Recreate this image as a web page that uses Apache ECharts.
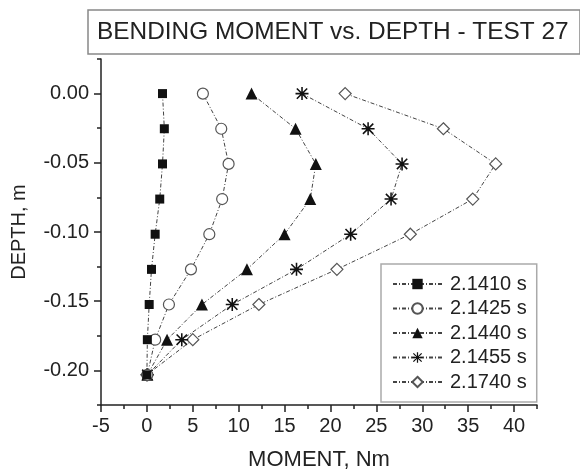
<!DOCTYPE html>
<html>
<head>
<meta charset="utf-8">
<script src="https://cdn.jsdelivr.net/npm/echarts@6/dist/echarts.min.js"></script>
<style>html,body{margin:0;padding:0;background:#fff}#c{width:580px;height:476px}</style>
</head>
<body>
<div id="c"></div>
<script>
// Depth of each gauge (m)
var depths = [0, -0.0254, -0.0508, -0.0762, -0.1016, -0.127, -0.1524, -0.1778, -0.2032];
// Moments (Nm) at each depth, per time
var seriesNames = ['2.1410 s', '2.1425 s', '2.1440 s', '2.1455 s', '2.1740 s'];
var m2141 = [1.7, 1.9, 1.7, 1.4, 0.9, 0.5, 0.25, 0.05, 0.0];
var m2142 = [6.1, 8.1, 8.9, 8.2, 6.8, 4.8, 2.4, 0.9, 0.05];
var m2144 = [11.4, 16.2, 18.4, 17.8, 15.0, 10.9, 6.0, 2.2, 0.05];
var m2145 = [16.9, 24.1, 27.8, 26.6, 22.2, 16.3, 9.3, 3.8, 0.05];
var m2174 = [21.6, 32.3, 38.0, 35.5, 28.7, 20.7, 12.2, 5.0, 0.0];
// Tick values
var xMajorTicks = [-5, 0, 5, 10, 15, 20, 25, 30, 35, 40];
var xMinorTicks = [-2.5, 2.5, 7.5, 12.5, 17.5, 22.5, 27.5, 32.5, 37.5, 42.5];
var yMajorTicks = [-0.2, -0.15, -0.1, -0.05, 0];
var yMinorTicks = [-0.225, -0.175, -0.125, -0.075, -0.025, 0.025];

var starPath = 'path://M0 4.4L10 4.4L10 5.6L0 5.6Z M4.4 0L5.6 0L5.6 10L4.4 10Z M0.6 1.45L1.45 0.6L9.4 8.55L8.55 9.4Z M8.55 0.6L9.4 1.45L1.45 9.4L0.6 8.55Z';

var moments = [m2141, m2142, m2144, m2145, m2174];
var symbols = ['rect', 'circle', 'triangle', starPath, 'diamond'];
var sizes = [9, 11, 12, 13, 12];
var fills = ['#111', '#fff', '#111', '#111', '#fff'];
var borders = ['#111', '#555', '#111', '#111', '#555'];

function pairs(arr) {
  return arr.map(function (v, i) { return [v, depths[i]]; });
}

var series = moments.map(function (arr, k) {
  return {
    name: seriesNames[k],
    type: 'line',
    xAxisIndex: 0,
    yAxisIndex: 0,
    data: pairs(arr),
    symbol: symbols[k],
    symbolSize: sizes[k],
    showAllSymbol: true,
    lineStyle: { color: '#444', width: 1, type: [4, 2, 1, 2] },
    itemStyle: { color: fills[k], borderColor: borders[k], borderWidth: (fills[k] === '#fff' ? 1.2 : 0) },
    emphasis: { disabled: true },
    animation: false,
    z: 5 - k
  };
});

var font = 'Liberation Sans, Arial, sans-serif';
var chart = echarts.init(document.getElementById('c'), null, { renderer: 'canvas' });
chart.setOption({
  animation: false,
  backgroundColor: '#fff',
  title: {
    text: 'BENDING MOMENT vs. DEPTH - TEST 27',
    left: 88, top: 10,
    padding: [7, 12, 7, 9],
    borderColor: '#888', borderWidth: 1.5,
    textStyle: { fontFamily: font, fontSize: 24.4, fontWeight: 'normal', color: '#222', lineHeight: 30 }
  },
  legend: {
    orient: 'vertical',
    left: 381, top: 264,
    padding: [10, 10, 10, 11],
    itemWidth: 49, itemHeight: 13, itemGap: 4.5,
    borderColor: '#aaa', borderWidth: 1.5,
    backgroundColor: '#fff',
    textStyle: { fontFamily: font, fontSize: 20, lineHeight: 20, color: '#222', padding: [0, 0, 0, 3] },
    data: seriesNames
  },
  grid: { left: 101, right: 43, top: 59, bottom: 64 },
  xAxis: [{
    type: 'value', min: -5, max: 42.5,
    name: 'MOMENT, Nm', nameLocation: 'middle', nameGap: 44,
    nameTextStyle: { fontFamily: font, fontSize: 22, color: '#222' },
    axisLine: { show: true, onZero: false, lineStyle: { color: '#222', width: 1.5 } },
    axisTick: { show: true, customValues: xMajorTicks, length: 7, lineStyle: { color: '#222', width: 1.5 } },
    axisLabel: { customValues: xMajorTicks, margin: 11, fontFamily: font, fontSize: 20, color: '#222' },
    splitLine: { show: false }
  }, {
    type: 'value', min: -5, max: 42.5, position: 'bottom', offset: 0,
    axisLine: { show: false, onZero: false },
    axisTick: { show: true, customValues: xMinorTicks, length: 4, lineStyle: { color: '#222', width: 1.5 } },
    axisLabel: { show: false },
    splitLine: { show: false }
  }],
  yAxis: [{
    type: 'value', min: -0.225, max: 0.025,
    name: 'DEPTH, m', nameLocation: 'middle', nameGap: 72,
    nameTextStyle: { fontFamily: font, fontSize: 20, color: '#222' },
    axisLine: { show: true, onZero: false, lineStyle: { color: '#222', width: 1.5 } },
    axisTick: { show: true, customValues: yMajorTicks, length: 7, lineStyle: { color: '#222', width: 1.5 } },
    axisLabel: { customValues: yMajorTicks, margin: 12, fontFamily: font, fontSize: 20, color: '#222',
      formatter: function (v) { return v.toFixed(2); } },
    splitLine: { show: false }
  }, {
    type: 'value', min: -0.225, max: 0.025, position: 'left', offset: 0,
    axisLine: { show: false, onZero: false },
    axisTick: { show: true, customValues: yMinorTicks, length: 4, lineStyle: { color: '#222', width: 1.5 } },
    axisLabel: { show: false },
    splitLine: { show: false }
  }],
  series: series
});
</script>
</body>
</html>
